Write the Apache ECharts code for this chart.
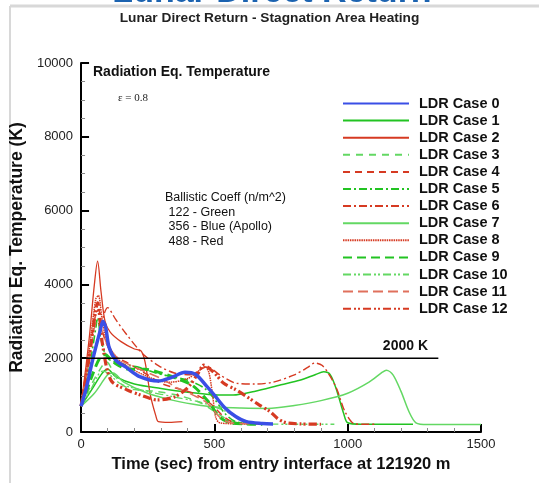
<!DOCTYPE html>
<html><head><meta charset="utf-8">
<script src="https://cdn.jsdelivr.net/npm/echarts@6/dist/echarts.min.js"></script>
<style>html,body{margin:0;padding:0;background:#fff}#c{width:539px;height:483px}</style>
</head><body><div id="c"></div>
<script>
// ---- data ----
const caseNames = ['LDR Case 0','LDR Case 1','LDR Case 2','LDR Case 3','LDR Case 4','LDR Case 5','LDR Case 6','LDR Case 7','LDR Case 8','LDR Case 9','LDR Case 10','LDR Case 11','LDR Case 12'];
const case0 = [[0,700],[20,1200],[45,2000],[70,2700],[82,3000],[92,2850],[105,2300],[130,1950],[170,1750],[220,1500],[290,1380],[340,1480],[390,1620],[430,1560],[470,1250],[500,1000],[540,650],[580,420],[620,280],[680,230],[720,220]];
const case1 = [[0,700],[40,1150],[80,1600],[100,1700],[130,1500],[200,1300],[300,1180],[400,1080],[500,1010],[570,1000],[650,1100],[750,1280],[820,1400],[880,1560],[910,1630],[935,1550],[960,1100],[985,500],[1000,250],[1050,210],[1245,210]];
const case2 = [[0,700],[30,2500],[50,4000],[62,4630],[75,3800],[90,3000],[110,2700],[150,2450],[200,2250],[225,2200],[240,1900],[260,1000],[280,450],[290,280],[330,260],[380,280]];
const case3 = [[0,700],[40,1300],[80,1800],[95,1900],[130,1500],[160,1250],[200,1150],[280,1100],[360,1000],[440,820],[500,560],[560,300],[620,230],[700,220]];
const case4 = [[0,700],[30,2000],[55,3200],[65,3300],[85,2600],[120,2100],[180,1850],[250,1550],[300,1320],[350,1200],[420,1050],[480,800],[530,450],[560,300],[620,230],[700,220]];
const case5 = [[0,700],[30,1700],[55,2800],[62,3100],[75,2500],[100,2000],[150,1850],[220,1750],[280,1600],[340,1500],[400,1400],[460,1200],[500,900],[540,500],[580,280],[650,230],[700,220]];
const case6 = [[0,700],[40,1800],[75,2900],[100,3370],[130,3050],[168,2670],[230,2130],[290,1800],[350,1600],[410,1550],[450,1700],[473,1770],[520,1550],[584,1320],[650,1300],[720,1350],[800,1550],[850,1750],[877,1870],[905,1800],[935,1500],[960,1150],[990,550],[1026,220],[1060,210],[1107,210]];
const case7 = [[0,700],[50,1050],[100,1550],[120,1600],[160,1350],[250,1050],[350,850],[450,720],[520,670],[600,650],[700,640],[800,720],[900,850],[1000,1050],[1080,1350],[1130,1620],[1145,1675],[1170,1550],[1200,1100],[1230,550],[1256,250],[1300,200],[1400,200],[1500,200]];
const case8 = [[0,700],[30,2200],[55,3600],[65,3700],[80,3000],[100,2400],[150,1900],[250,1500],[330,1350],[400,1450],[440,1650],[465,1770],[480,1600],[495,900],[505,400],[520,250],[600,220],[700,210]];
const case9 = [[0,700],[40,1500],[70,2000],[90,2100],[120,1900],[180,1700],[240,1700],[300,1600],[360,1450],[420,1250],[480,800],[520,400],[560,250],[620,220],[680,210]];
const case10 = [[0,700],[40,1200],[80,1650],[100,1600],[150,1300],[250,1100],[350,950],[450,800],[530,600],[600,350],[680,220],[800,210],[950,210]];
const case11 = [[0,700],[35,2200],[60,3000],[80,2700],[110,2200],[160,1900],[220,1700],[300,1450],[360,1200],[420,1000],[470,800],[520,400],[560,250],[650,220]];
const case12 = [[0,700],[30,2000],[55,3300],[62,3500],[80,2400],[112,1400],[170,1150],[224,1000],[286,870],[350,950],[400,1200],[440,1600],[460,1810],[500,1600],[535,1320],[580,1150],[622,955],[665,750],[709,550],[740,350],[770,250],[820,220],[900,210]];
const refLevel = 2000;
const refSpan = [0, 1340];

// ---- styles ----
const BLUE='#3a4fe6', GREEN='#22c322', LGREEN='#63d863', RED='#d63a22', LRED='#e0705c';
const styles = [
  {c:BLUE, w:3.5, t:'solid'},
  {c:GREEN, w:1.5, t:'solid'},
  {c:RED, w:1.3, t:'solid'},
  {c:LGREEN, w:1.5, t:[7,6]},
  {c:RED, w:1.5, t:[7,5]},
  {c:GREEN, w:1.6, t:[8,3,2,3]},
  {c:RED, w:1.4, t:[8,3,2,3]},
  {c:LGREEN, w:1.5, t:'solid'},
  {c:RED, w:1.5, t:[1.5,0.8]},
  {c:GREEN, w:3, t:[9,5]},
  {c:LGREEN, w:1.3, t:[8,3,2,2,2,3]},
  {c:LRED, w:1.5, t:[10,5]},
  {c:RED, w:3.2, t:[8,3,2,2,2,3]}
];
const allData=[case0,case1,case2,case3,case4,case5,case6,case7,case8,case9,case10,case11,case12];
const FONT='Liberation Sans, Arial, Helvetica, sans-serif';

const series = allData.map((d,i)=>({
  name: caseNames[i], type:'line', data:d, symbol:'none', showSymbol:false, smooth:0.3,
  lineStyle:{color:styles[i].c, width:styles[i].w, type:styles[i].t},
  itemStyle:{color:styles[i].c}, z: i===0?5:3, animation:false
}));
series.push({
  name:'ref', type:'line', data:refSpan.map(x=>[x,refLevel]), symbol:'none',
  lineStyle:{color:'#000', width:1.5}, z:6, animation:false, silent:true
});

const chart = echarts.init(document.getElementById('c'));
chart.setOption({
  animation:false,
  grid:{left:80, right:58, top:63, bottom:51},
  xAxis:{type:'value', min:0, max:1500, interval:500,
    axisLine:{show:true, lineStyle:{color:'#000', width:2}},
    axisTick:{inside:true, length:8, lineStyle:{color:'#000', width:2}},
    minorTick:{show:true, splitNumber:5, length:4, lineStyle:{color:'#888', width:1}},
    splitLine:{show:false},
    axisLabel:{color:'#222', fontSize:13, fontFamily:FONT, margin:6, formatter:v=>String(v)},
    name:'Time (sec) from entry interface at 121920 m', nameLocation:'middle', nameGap:20,
    nameTextStyle:{color:'#111', fontSize:16.5, fontWeight:'bold', fontFamily:FONT}
  },
  yAxis:{type:'value', min:0, max:10000, interval:2000,
    axisLine:{show:true, lineStyle:{color:'#000', width:2}},
    axisTick:{inside:true, length:8, lineStyle:{color:'#000', width:2}},
    minorTick:{show:true, splitNumber:4, length:4, lineStyle:{color:'#888', width:1}},
    splitLine:{show:false},
    axisLabel:{color:'#222', fontSize:13, fontFamily:FONT, margin:8, formatter:v=>String(v)},
    name:'Radiation Eq. Temperature (K)', nameLocation:'middle', nameGap:36, nameRotate:90,
    nameTextStyle:{color:'#111', fontSize:17.5, fontWeight:'bold', fontFamily:FONT}
  },
  legend:{orient:'vertical', left:337, top:91, itemWidth:66, itemHeight:10, itemGap:2.1,
    data:caseNames, selectedMode:false,
    itemStyle:{opacity:0},
    textStyle:{color:'#111', fontSize:14.5, fontWeight:'bold', fontFamily:FONT, padding:[0,0,0,5]}
  },
  graphic:[
    {type:'text', x:272, y:10, style:{text:'Lunar Direct Return', align:'center', verticalAlign:'bottom', fontSize:34, fontWeight:'bold', fill:'#1c63b0', fontFamily:FONT}},
    {type:'line', shape:{x1:10,y1:6,x2:10,y2:483}, style:{stroke:'#d8d8d8', lineWidth:2}},
    {type:'line', shape:{x1:10,y1:6,x2:539,y2:6}, style:{stroke:'#d8d8d8', lineWidth:3}},
    {type:'text', left:'center', top:11, style:{text:'Lunar Direct Return - Stagnation Area Heating', fontSize:13.7, fontWeight:'bold', fill:'#222', fontFamily:FONT}},
    {type:'text', left:93, top:65, style:{text:'Radiation Eq. Temperature', fontSize:14, fontWeight:'bold', fill:'#111', fontFamily:FONT}},
    {type:'text', left:118, top:93, style:{text:'ε = 0.8', fontSize:11, fill:'#222', fontFamily:'Liberation Serif, DejaVu Serif, serif'}},
    {type:'text', left:165, top:190, style:{text:'Ballistic Coeff (n/m^2)\n 122 - Green\n 356 - Blue (Apollo)\n 488 - Red', fontSize:12.5, lineHeight:14.7, fill:'#111', fontFamily:FONT}},
    {type:'text', right:111, top:339, style:{text:'2000 K', fontSize:14, fontWeight:'bold', fill:'#111', fontFamily:FONT}}
  ],
  series:series
});
</script></body></html>
